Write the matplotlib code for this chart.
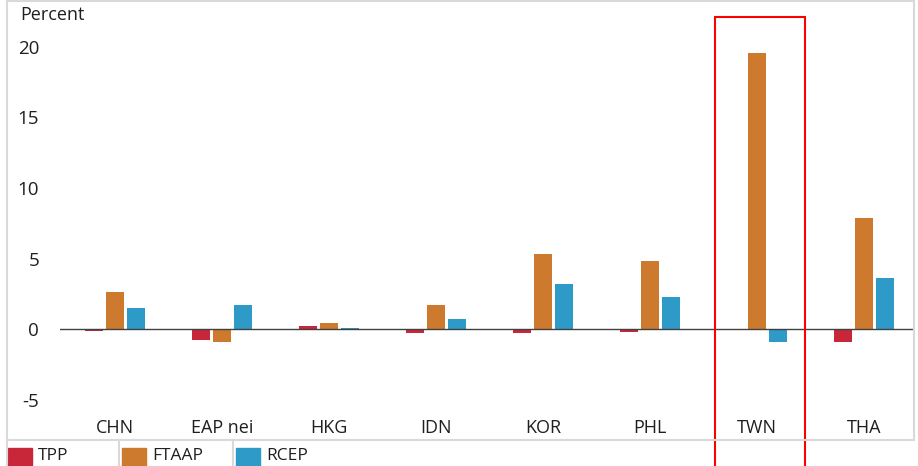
import matplotlib.pyplot as plt
import numpy as np
from matplotlib.patches import Rectangle
from matplotlib.lines import Line2D

plt.rcParams['font.family'] = ['Open Sans', 'DejaVu Sans']

# данные
countries = ['CHN', 'EAP nei', 'HKG', 'IDN', 'KOR', 'PHL', 'TWN', 'THA']
series = ['TPP', 'FTAAP', 'RCEP']
tpp = [-0.15, -0.8, 0.2, -0.25, -0.3, -0.2, -0.1, -0.95]
ftaap = [2.6, -0.9, 0.4, 1.7, 5.35, 4.8, 19.55, 7.9]
rcep = [1.5, 1.7, 0.1, 0.7, 3.2, 2.3, -0.95, 3.65]
colors = ['#C8273A', '#CD7A2F', '#2E9AC8']
yticks = [-5, 0, 5, 10, 15, 20]

W, H = 918, 466
txt = '#1F1F1F'
fig = plt.figure(figsize=(W / 100, H / 100), dpi=100)
ax = fig.add_axes([60 / W, 26 / H, 854 / W, 440 / H])

x = np.arange(len(countries))
bw = 0.168
off = 0.2
for k, vals in enumerate([tpp, ftaap, rcep]):
    ax.bar(x + (k - 1) * off, vals, width=bw, color=colors[k], zorder=2)

ax.axhline(0, color='#404040', lw=1, zorder=3)
ax.set_xlim(-0.514, 7.467)
ax.set_ylim(-7.87, 23.33)
for s in ax.spines.values():
    s.set_visible(False)
ax.set_xticks([])
ax.set_yticks(yticks)
ax.set_yticklabels([str(v) for v in yticks])
ax.tick_params(axis='y', length=0, pad=15, labelsize=13.5, labelcolor=txt)

for i, c in enumerate(countries):
    ax.text(i, -7.0, c, ha='center', va='center', fontsize=13, color=txt)

fig.text(20 / W, 1 - 15 / H, 'Percent', ha='left', va='center', fontsize=13, color=txt)

# рамка
gray = '#D9D9D9'
fig.add_artist(Line2D([7 / W, 7 / W], [0, 1], color=gray, lw=1.5))
fig.add_artist(Line2D([914 / W, 914 / W], [26 / H, 1], color=gray, lw=1.5))
fig.add_artist(Line2D([7 / W, 914 / W], [1 - 1 / H, 1 - 1 / H], color=gray, lw=1.5))
fig.add_artist(Line2D([7 / W, 914 / W], [26 / H, 26 / H], color=gray, lw=1.5))

# легенда
leg_x = [8, 122, 236]
for k, name in enumerate(series):
    lx = leg_x[k]
    fig.add_artist(Rectangle((lx / W, 0), 24 / W, 18 / H, color=colors[k]))
    fig.text((lx + 30) / W, 10 / H, name, ha='left', va='center', fontsize=12.5, color=txt)
    if k > 0:
        fig.add_artist(Line2D([(lx - 3) / W, (lx - 3) / W], [0, 26 / H], color=gray, lw=1.5))

# выделение TWN
fig.add_artist(Rectangle((715 / W, -0.01), 90 / W, (H - 17) / H + 0.01,
                         fill=False, edgecolor='#FF0000', lw=1.5))

fig.savefig('out.png', dpi=100)
